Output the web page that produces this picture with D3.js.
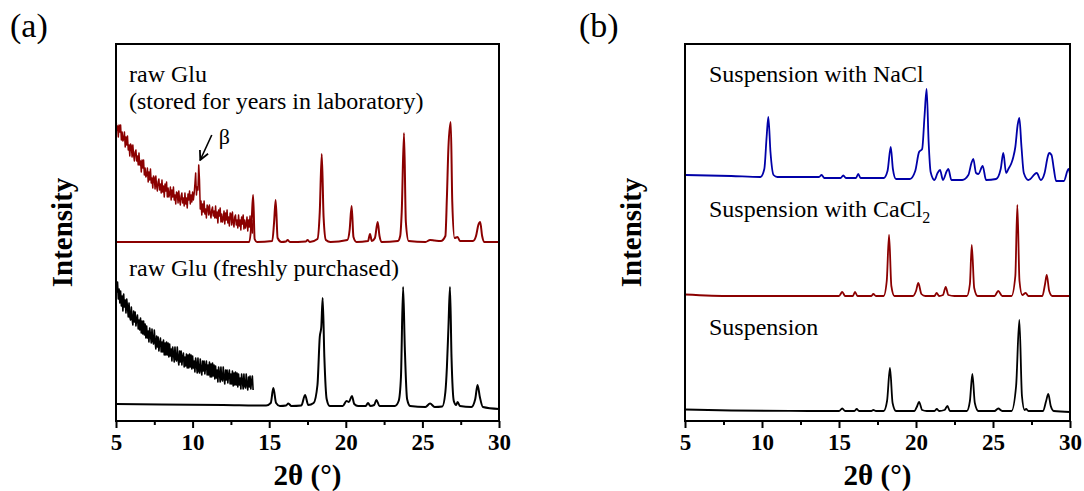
<!DOCTYPE html>
<html>
<head>
<meta charset="utf-8">
<script src="https://cdn.jsdelivr.net/npm/d3@7"></script>
<style>
  body { margin: 0; background: #fff; }
  svg text { font-family: "Liberation Serif", "Times New Roman", serif; }
</style>
</head>
<body>
<div id="chart"></div>
<script>
// ---- data (2θ in degrees, intensity in a.u.) ----
var xTicks = [5, 10, 15, 20, 25, 30];
var xMinorTicks = [7.5, 12.5, 17.5, 22.5, 27.5];

// (a) raw Glu stored for years - full scan
var storedMain = [[5,0],[10,0],[13.7,0],[13.85,20],[13.95,47],[14.05,3],[14.2,0],[15.2,1],[15.32,20],[15.42,42],[15.55,4],[15.8,0],
  [16.1,0.5],[16.2,2],[16.35,0],[17.4,0.5],[17.5,2],[17.65,0],[18.15,3],[18.3,30],[18.43,88],[18.55,25],[18.7,2],[19,0],
  [20.1,2],[20.25,12],[20.38,36],[20.5,5],[20.7,0],[21.45,1],[21.58,8],[21.7,1],[21.9,4],[22.08,20],[22.2,6],[22.35,0],
  [23.4,1],[23.55,6],[23.65,30],[23.8,109],[23.92,20],[24.1,1],[25.2,0],[25.5,2],[25.8,1.5],[26.2,1],[26.5,6],[26.6,45],
  [26.7,95],[26.85,120],[26.95,40],[27.1,4],[27.3,5],[27.45,1],[28.3,1],[28.5,6],[28.65,17],[28.77,20],[28.9,6],[29.05,0],[30,0]];
// (a) raw Glu stored - low angle scan, 5.00 to 13.95 every 0.05
var storedLow = [
  124,112,116,105,117,110,117,102,110,101,
  103,110,95,105,97,106,92,97,86,98,
  96,85,97,87,81,90,92,81,86,77,
  89,77,81,70,82,74,82,67,74,65,
  67,74,60,70,62,73,59,64,54,66,
  64,53,66,56,51,60,63,52,58,49,
  62,50,56,45,58,51,60,45,54,45,
  48,55,42,52,45,55,42,47,38,50,
  49,39,51,42,37,46,49,39,44,36,
  49,38,44,34,48,42,51,38,47,40,
  50,42,48,58,69,47,55,52,77,62,
  33,41,27,38,30,41,28,33,24,37,
  35,27,37,29,24,32,35,26,31,24,
  36,24,30,19,32,26,34,20,28,20,
  23,31,18,29,22,32,19,25,16,29,
  28,17,30,20,15,25,27,17,22,14,
  27,16,22,12,25,18,27,13,22,14,
  17,25,11,22,15,26,12,18,9,22];

// (a) raw Glu freshly purchased - full scan
var freshMain = [[5,3],[8,2.5],[12,2],[14.8,1.5],[15.1,4],[15.27,19],[15.45,4],[15.7,1],[16.1,1.5],[16.25,3.5],[16.45,1],
  [17.1,1.5],[17.34,12],[17.55,2],[17.9,4],[18.15,22],[18.3,70],[18.4,80],[18.49,109],[18.6,50],[18.75,8],[18.95,1],
  [19.8,1],[20.05,6],[20.2,5],[20.4,11],[20.55,3],[20.8,1],[21.3,1],[21.45,4],[21.6,1],[21.85,2],[22,7],[22.2,1],
  [23.2,1],[23.45,6],[23.6,30],[23.74,120],[23.85,60],[24,8],[24.2,1],[25.2,0],[25.5,3.5],[25.8,0],[26.3,0.5],
  [26.5,15],[26.6,40],[26.7,80],[26.8,120],[26.9,50],[27.05,6],[27.2,2],[27.3,5],[27.45,1],[28.2,0],[28.45,8],
  [28.6,22],[28.75,10],[28.95,0],[30,-2]];
// (a) raw Glu freshly purchased - low angle scan, 5.00 to 13.95 every 0.05
var freshLow = [
  127,115,125,108,118,104,116,101,111,96,
  113,100,107,94,108,100,90,104,90,87,
  100,88,82,96,85,95,81,88,92,78,
  87,77,89,74,86,73,86,72,83,69,
  81,69,76,65,79,72,64,78,66,63,
  77,65,58,71,60,70,56,64,69,55,
  65,55,67,52,64,52,65,52,64,50,
  63,51,58,46,60,54,45,60,48,46,
  60,48,42,56,45,56,42,50,54,40,
  50,41,53,39,52,39,53,40,52,38,
  51,39,46,35,49,43,34,49,36,34,
  48,37,32,46,36,46,33,41,46,32,
  42,32,45,30,43,30,44,31,42,28,
  41,29,37,25,40,34,25,40,28,26,
  40,29,23,37,27,37,24,32,37,23,
  33,23,36,21,34,22,35,22,34,20,
  33,22,29,18,33,26,18,33,21,19,
  33,22,17,30,20,31,18,26,31,17];
var lowStart = 5.0, lowStep = 0.05;

// (b) suspensions
var naclPattern = [[5,2],[8,1],[9.9,0],[10.15,8],[10.3,40],[10.41,60],[10.55,25],[10.75,2],[11,0],[13.7,0],[13.87,2],[14.05,-1],
  [15.1,-1],[15.28,1.5],[15.45,-1],[16.1,-1],[16.25,3],[16.4,-1],[17.9,-1],[18.15,6],[18.36,30],[18.5,8],[18.7,-2],
  [19.6,-2],[19.95,6],[20.2,25],[20.4,28],[20.55,60],[20.69,88],[20.82,35],[20.95,5],[21.2,-3],[21.4,4],[21.56,7],
  [21.75,-3],[22,6],[22.1,8],[22.3,-3],[23,-3],[23.4,2],[23.6,14],[23.72,18],[23.9,4],[24.05,3],[24.33,11],[24.55,-3],
  [25.2,-2],[25.5,8],[25.67,24],[25.85,4],[26,8],[26.2,14],[26.32,20],[26.45,30],[26.6,52],[26.71,59],[26.85,30],
  [27,4],[27.3,-3],[27.84,4],[28.1,-3],[28.35,4],[28.55,20],[28.65,24],[28.8,22],[28.95,8],[29.1,-4],[29.6,-4],[29.9,8],[30,3]];
var cacl2Pattern = [[5,1.5],[8,0],[13,0],[15,0],[15.21,4],[15.4,0],[15.9,0],[16.04,4],[16.2,0],[17.1,0],[17.23,2],[17.4,0],
  [17.9,0],[18.1,15],[18.25,61],[18.4,10],[18.6,0],[19.8,0],[20,5],[20.15,13],[20.35,2],[20.6,0],[21.2,0],[21.34,3],
  [21.5,0],[21.75,1],[21.93,9],[22.1,1],[22.5,0],[23.3,0],[23.5,12],[23.62,51],[23.78,8],[24,0],[25.1,0],[25.34,5],
  [25.6,0],[26.2,0],[26.45,20],[26.58,91],[26.72,15],[26.9,1],[27.12,3],[27.3,0],[28.2,0],[28.38,12],[28.49,21],
  [28.65,5],[28.85,0],[30,0]];
var suspPattern = [[5,1.5],[8,0.5],[13,0],[15,0],[15.21,2.5],[15.4,0],[16,0],[16.15,2],[16.3,0],[17.1,0],[17.23,1],[17.4,0],
  [17.9,0],[18.12,10],[18.31,43],[18.48,8],[18.7,0],[19.9,0],[20.05,4],[20.2,9],[20.4,1],[20.7,0],[21.2,0],[21.35,2],
  [21.5,0],[21.85,1],[22.04,5],[22.2,0],[23.3,0],[23.5,10],[23.66,37],[23.82,8],[24.05,0],[25.1,0],[25.34,2.5],
  [25.6,0],[26.2,0],[26.5,25],[26.71,91],[26.88,15],[27.05,1],[27.15,2],[27.3,0],[28.25,0],[28.45,10],[28.59,17],
  [28.75,5],[28.95,0],[30,-1]];

// ---- layout ----
var svgWidth = 1084, svgHeight = 491;
var plotTop = 44, plotBottom = 421;

var svg = d3.select("#chart").append("svg")
  .attr("width", svgWidth)
  .attr("height", svgHeight);
svg.append("rect").attr("width", svgWidth).attr("height", svgHeight).attr("fill", "#fff");

svg.append("defs").append("marker")
  .attr("id", "arrow")
  .attr("viewBox", "0 0 10 10")
  .attr("refX", 9).attr("refY", 5)
  .attr("markerWidth", 7).attr("markerHeight", 7)
  .attr("orient", "auto")
  .append("path")
  .attr("d", "M1,1 L9,5 L1,9")
  .attr("fill", "none")
  .attr("stroke", "#000")
  .attr("stroke-width", 1.6);

function lowToPoints(vals) {
  return vals.map((v, i) => [lowStart + i * lowStep, v]);
}

function drawPanel(left, right, letter, curves, labels, labelX) {
  var x = d3.scaleLinear().domain([5, 30]).range([left, right]);
  var y = d3.scaleLinear().domain([0, plotBottom - plotTop]).range([plotBottom, plotTop]);
  var g = svg.append("g");

  curves.forEach(function (c) {
    var line = d3.line()
      .x(d => x(d[0]))
      .y(d => y(d[1]))
      .curve(c.noisy ? d3.curveLinear : d3.curveMonotoneX);
    g.append("path")
      .datum(c.data.map(d => [d[0], d[1] + c.offset]))
      .attr("d", line)
      .attr("fill", "none")
      .attr("stroke", c.color)
      .attr("stroke-width", c.width)
      .attr("stroke-linejoin", "round");
  });

  // frame
  g.append("rect")
    .attr("x", left).attr("y", plotTop)
    .attr("width", right - left).attr("height", plotBottom - plotTop)
    .attr("fill", "none").attr("stroke", "#000").attr("stroke-width", 2);

  // major ticks with labels
  var xAxis = g.append("g")
    .attr("transform", `translate(0, ${plotBottom})`)
    .call(d3.axisBottom(x).tickValues(xTicks).tickSize(7).tickSizeOuter(0).tickPadding(6).tickFormat(d3.format("d")));
  xAxis.select(".domain").remove();
  xAxis.selectAll("line").attr("stroke-width", 2);
  xAxis.selectAll("text")
    .attr("font-family", "Liberation Serif, serif")
    .attr("font-size", 23)
    .attr("font-weight", "bold")
    .attr("fill", "#000");

  // minor ticks
  var minor = g.append("g")
    .attr("transform", `translate(0, ${plotBottom})`)
    .call(d3.axisBottom(x).tickValues(xMinorTicks).tickSize(4).tickFormat(""));
  minor.select(".domain").remove();
  minor.selectAll("line").attr("stroke-width", 2);

  // axis titles
  g.append("text")
    .attr("x", (left + right) / 2)
    .attr("y", 485)
    .attr("text-anchor", "middle")
    .attr("font-size", 29)
    .attr("font-weight", "bold")
    .text("2θ (°)");

  g.append("text")
    .attr("transform", `translate(${left - 44}, ${(plotTop + plotBottom) / 2}) rotate(-90)`)
    .attr("text-anchor", "middle")
    .attr("font-size", 29)
    .attr("font-weight", "bold")
    .text("Intensity");

  g.append("text")
    .attr("x", left - 106)
    .attr("y", 37)
    .attr("font-size", 34)
    .text(letter);

  labels.forEach(function (l) {
    var t = g.append("text")
      .attr("x", labelX)
      .attr("y", l.y)
      .attr("font-size", 24);
    t.append("tspan").text(l.text);
    if (l.sub) {
      t.append("tspan").attr("font-size", 16).attr("dy", 6).text(l.sub);
    }
  });

  return {x: x, y: y, g: g};
}

var red = "#8b0000", blue = "#0000a8", black = "#000";

var pa = drawPanel(116, 499, "(a)", [
  {data: storedMain, offset: 179, color: red, width: 2},
  {data: lowToPoints(storedLow), offset: 179, color: red, width: 1.5, noisy: true},
  {data: freshMain, offset: 14, color: black, width: 2},
  {data: lowToPoints(freshLow), offset: 14, color: black, width: 1.6, noisy: true}
], [
  {text: "raw Glu", y: 82},
  {text: "(stored for years in laboratory)", y: 109},
  {text: "raw Glu (freshly purchased)", y: 276}
], 129);

// β annotation
pa.g.append("line")
  .attr("x1", pa.x(11.25)).attr("y1", pa.y(286))
  .attr("x2", pa.x(10.5)).attr("y2", pa.y(261))
  .attr("stroke", "#000").attr("stroke-width", 1.6)
  .attr("marker-end", "url(#arrow)");
pa.g.append("text")
  .attr("x", pa.x(11.7)).attr("y", pa.y(277))
  .attr("font-size", 22)
  .text("β");

drawPanel(685, 1070, "(b)", [
  {data: naclPattern, offset: 244, color: blue, width: 1.8},
  {data: cacl2Pattern, offset: 125, color: red, width: 1.8},
  {data: suspPattern, offset: 10, color: black, width: 1.8}
], [
  {text: "Suspension with NaCl", y: 82},
  {text: "Suspension with CaCl", sub: "2", y: 217},
  {text: "Suspension", y: 335}
], 709);
</script>
</body>
</html>
